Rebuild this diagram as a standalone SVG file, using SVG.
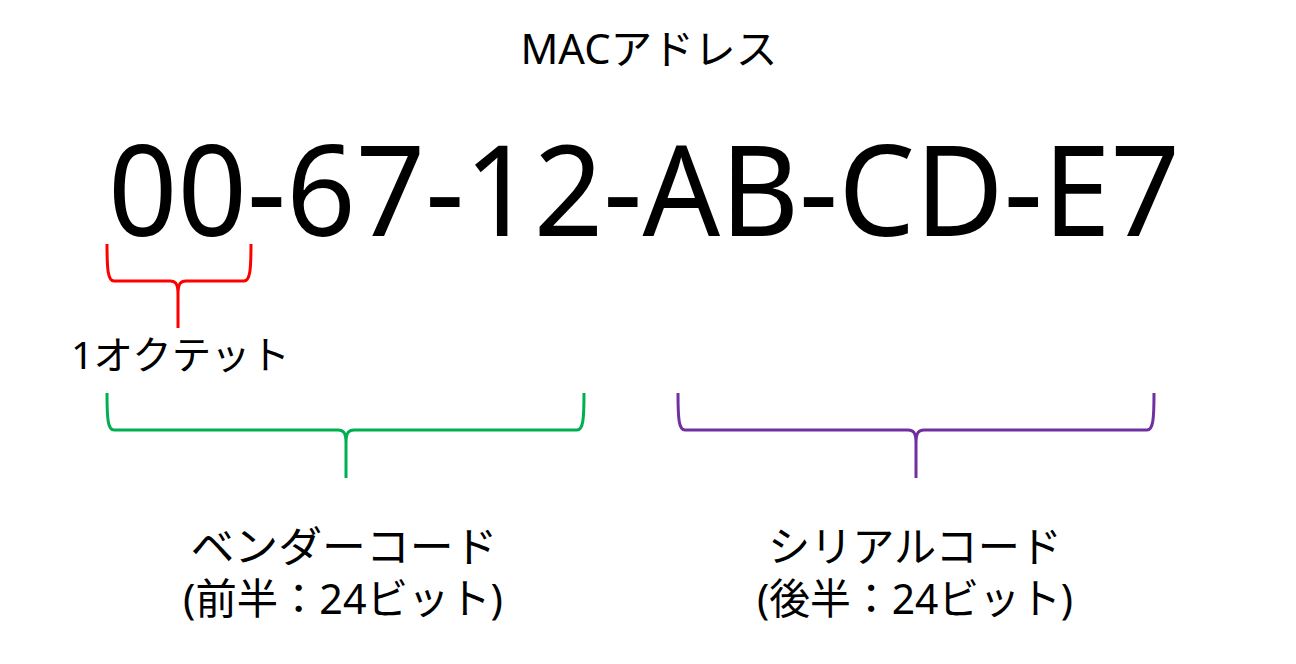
<svg xmlns="http://www.w3.org/2000/svg" width="1296" height="664" viewBox="0 0 1296 664">
<style>
text{font-family:"Noto Sans","Noto Sans CJK JP",sans-serif;fill:#000}
.lbl{font-size:42px;text-anchor:middle}
.brace{fill:none;stroke-width:3;stroke-linecap:butt;stroke-linejoin:round}
</style>
<rect width="1296" height="664" fill="#fff"/>
<g id="title"><text x="649" y="64" font-size="41" text-anchor="middle" textLength="257" lengthAdjust="spacingAndGlyphs">MACアドレス</text></g>
<g id="mac"><text x="108" y="236" font-size="127" textLength="1072" lengthAdjust="spacingAndGlyphs">00-67-12-AB-CD-E7</text></g>
<g id="octet"><text x="71" y="369" font-size="39" textLength="219" lengthAdjust="spacingAndGlyphs">1オクテット</text></g>
<g id="vendor">
<text class="lbl" x="344" y="562" textLength="307" lengthAdjust="spacingAndGlyphs">ベンダーコード</text>
<text class="lbl" x="343" y="614" textLength="320" lengthAdjust="spacingAndGlyphs">(前半：24ビット)</text>
</g>
<g id="serial">
<text class="lbl" x="915" y="562" textLength="294" lengthAdjust="spacingAndGlyphs">シリアルコード</text>
<text class="lbl" x="915" y="614" textLength="316" lengthAdjust="spacingAndGlyphs">(後半：24ビット)</text>
</g>
<g id="connectors">
<path class="brace" stroke="#FF0000" d="M107,244 C107,270 108,281 114,281 L170,281 C175,281 178,283 178,294 L178,328 M251,244 C251,270 250,281 244,281 L186,281 C181,281 178,283 178,294"/>
<path class="brace" stroke="#00B050" d="M107,393 C107,420 108,430 114,430 L338,430 C343,430 346,432 346,443 L346,478 M584,393 C584,420 583,430 577,430 L354,430 C349,430 346,432 346,443"/>
<path class="brace" stroke="#7030A0" d="M678,393 C678,420 679,430 685,430 L908,430 C913,430 916,432 916,443 L916,478 M1154,393 C1154,420 1153,430 1147,430 L924,430 C919,430 916,432 916,443"/>
</g>
</svg>
